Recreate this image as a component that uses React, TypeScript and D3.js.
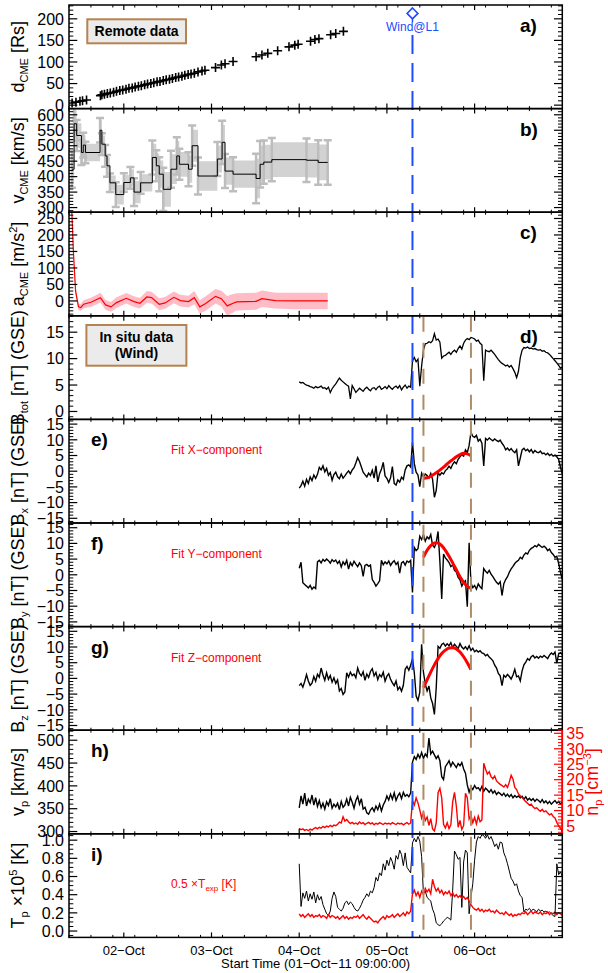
import React from "react";
import * as d3 from "d3";

const FONT = "'Liberation Sans', Arial, Helvetica, sans-serif";

// Time axis: hours after 01-Oct-2011 09:00:00
const TIME_SPAN = 135;
const dayTickHours = [15, 39, 63, 87, 111];
const dayTickLabels = ["02\u2212Oct", "03\u2212Oct", "04\u2212Oct", "05\u2212Oct", "06\u2212Oct"];
const MINOR_TIME_STEP = 6;

// Event markers (hours after start)
const shockHour = 94; // 05-Oct 07:00, arrival at Wind
const cloudBounds = [97, 110]; // flux-rope boundaries

// Remote-sensing track: distance of the CME front
const distHours = [0.85, 1.9, 3.0, 3.7, 4.8, 8.6, 9.0, 9.7, 10.5, 11.3, 12.2, 13.0, 13.9, 14.7, 15.6, 16.4, 17.3, 18.1, 19.0, 19.8, 20.7, 21.5, 22.4, 23.2, 24.1, 24.9, 25.8, 26.6, 27.5, 28.3, 29.2, 30.0, 30.9, 31.7, 32.6, 33.4, 34.3, 35.3, 36.4, 37.2, 40.1, 41.7, 42.7, 44.9, 51.2, 52.8, 54.4, 57.1, 60.2, 61.8, 62.7, 66.1, 67.3, 68.4, 71.6, 73.0, 75.1];
const distValues = [5, 7, 9, 10, 12, 22, 24, 25, 27, 28, 30, 32, 34, 35, 37, 39, 40, 42, 44, 45, 47, 49, 50, 52, 54, 55, 57, 59, 60, 62, 64, 65, 67, 69, 71, 72, 74, 77, 79, 81, 87, 93, 96, 101, 112, 116, 120, 126, 135, 139, 141, 148, 152, 154, 163, 166, 171];

// CME speed (step profile) with uncertainties
const speedHours = [0.8, 1.4, 2.1, 3.4, 3.9, 4.5, 8.5, 9.0, 9.9, 10.4, 11.2, 12.8, 15.0, 16.8, 17.8, 19.6, 22.8, 23.9, 24.7, 25.8, 27.9, 29.5, 30.2, 32.7, 33.7, 35.3, 40.6, 41.9, 42.7, 44.9, 51.2, 52.3, 53.3, 55.5, 65.0, 68.2, 70.8];
const speedValues = [424, 571, 533, 478, 502, 478, 550, 505, 467, 435, 380, 342, 381, 396, 350, 380, 462, 435, 408, 359, 424, 467, 440, 424, 500, 402, 457, 511, 418, 408, 394, 440, 447, 455, 453, 446, 446];
const speedErrors = [60, 55, 50, 40, 40, 35, 40, 35, 35, 35, 30, 40, 30, 35, 45, 35, 55, 50, 55, 70, 60, 60, 50, 55, 65, 60, 55, 70, 55, 55, 80, 75, 70, 70, 70, 72, 72];

// CME acceleration with uncertainties
const accHours = [0.6, 1.2, 1.8, 2.6, 3.2, 4.0, 6.0, 8.6, 10.0, 11.5, 13.0, 15.7, 17.8, 19.4, 21.3, 22.6, 24.7, 26.3, 28.7, 30.5, 32.7, 34.3, 35.8, 37.4, 40.1, 41.7, 43.3, 44.9, 45.9, 51.2, 52.8, 56.5, 61.8, 66.0, 70.8];
const accValues = [320, 150, 30, -18, -20, -10, -4, 10, -12, -18, -5, 8, -2, -7, 12, 10, -10, -6, 11, 1, -2, 10, -18, -8, 14, 7, -15, -7, -3, -1, 7, 1, 0, 0, 0];
const accErrors = [20, 15, 12, 10, 10, 12, 14, 15, 15, 15, 16, 16, 16, 16, 18, 18, 18, 18, 18, 18, 18, 20, 20, 22, 22, 24, 30, 28, 26, 26, 25, 24, 25, 25, 25];

// Wind in situ data, 30-min samples from 04-Oct 00:00
const IN_SITU_START = 63;
const IN_SITU_STEP = 0.5;

const bTotal = [5.6, 5.4, 5.5, 5.2, 5.0, 4.9, 4.7, 4.6, 4.4, 4.7, 4.5,
  4.6, 4.8, 4.4, 4.5, 4.2, 4.6, 3.6, 4.3, 4.8, 5.2,
  5.8, 6.3, 5.9, 5.6, 5.3, 5.0, 4.8, 2.4, 4.9, 4.3,
  3.6, 4.0, 4.4, 4.1, 3.8, 4.3, 4.6, 4.2, 3.9, 4.4,
  4.5, 4.1, 4.6, 4.8, 4.2, 4.4, 4.7, 4.3, 4.9, 4.5,
  4.2, 4.6, 4.8, 4.4, 4.9, 4.1, 4.6, 5.0, 4.4, 4.8, 4.6,
  9.6, 10.2, 9.4, 9.9, 4.8, 8.6, 11.6, 12.8, 12.9,
  13.2, 13.0, 13.4, 14.7, 13.5, 13.7, 13.1, 10.1, 10.5, 10.6,
  10.9, 11.2, 10.8, 11.3, 11.6, 11.2, 11.9, 12.4, 11.8, 12.9,
  13.5, 13.8, 13.6, 14.0, 13.9, 13.7, 13.3, 13.5, 12.9, 12.6,
  5.8, 11.6, 11.4, 11.3, 11.6, 11.2, 10.8, 10.3, 9.8, 9.4,
  9.1, 8.9, 8.6, 8.8, 8.4, 8.7, 8.1, 7.4, 6.4, 7.6,
  10.2, 11.6, 12.1, 12.0, 12.2, 11.9, 12.0, 11.8, 11.9, 11.7,
  11.6, 11.7, 11.4, 11.5, 11.2, 11.1, 10.8, 10.4, 10.0, 9.6,
  9.2, 8.7, 8.2, 8.4];

const bX = [-5.4, -4.6, -3.2, -4.8, -2.6, -3.9, -1.8, -3.0, -1.2, -2.3, -1.0,
  1.2, 0.4, 1.7, -0.2, 0.9, -1.3, -0.4, -2.9, -1.1, -0.3,
  -1.8, -2.4, -0.9, -2.2, -1.5, -0.6, 0.1, -0.8, 0.4, 1.1,
  2.6, 4.3, 3.1, 1.4, -0.3, -1.1, -1.8, -0.6, -1.4, 0.3,
  -2.2, 1.7, -3.4, -0.8, 0.6, 2.8, -1.5, -2.3, -3.6, -2.1,
  1.5, -3.9, -4.4, -2.8, -3.5, -1.9, -2.6, 0.4, 1.7, 2.0, 1.3,
  9.2, 2.4, -0.3, -1.2, -4.9, -0.6, -1.8, -0.9, -1.4,
  -2.2, -0.7, -2.6, -8.3, -6.1, -0.4, -1.3, -0.5, -0.9, 0.2,
  0.7, 1.6, 0.9, 2.2, 3.0, 2.4, 3.8, 4.6, 5.2, 4.8,
  6.8, 5.9, 8.2, 12.4, 11.1, 10.8, 11.4, 9.6, 10.2, 8.9,
  1.7, 10.4, 9.9, 10.6, 10.1, 9.7, 10.3, 9.8, 9.4, 9.9,
  8.9, 8.1, 6.8, 7.4, 6.6, 7.2, 6.4, 5.9, 6.8, 1.7,
  4.2, 6.8, 7.3, 6.5, 7.0, 6.2, 6.9, 5.8, 6.6, 6.1,
  5.9, 6.4, 5.6, 5.8, 5.2, 5.7, 5.0, 5.4, 4.8, 5.1,
  4.6, 3.8, 1.2, -0.8];

const bY = [2.1, 4.0, -2.5, -3.1, -3.6, -4.2, -3.4, -4.6, -3.9, -4.4, 4.1,
  4.6, 3.8, 4.9, 4.3, 5.0, 4.5, 3.7, 4.8, 4.2, 4.7,
  3.6, 4.4, 2.5, 4.1, 3.2, 4.6, 1.8, 3.9, 2.9, 4.3,
  3.4, 2.6, 3.8, 2.9, -0.5, 3.0, 3.3, 2.7, 3.1, -1.5,
  -2.4, -3.6, -2.8, -1.9, 4.6, 3.2, 4.1, 3.5, 4.4, 3.0,
  3.9, 4.5, 3.3, 4.0, 0.5, 3.8, 4.2, 3.1, 4.4, 4.0, 4.6,
  -5.6, 8.7, 7.7, 8.3, 12.3, 11.2, 12.8, 10.7, 12.1,
  11.4, 12.8, 9.4, 8.7, 10.3, 13.8, 4.2, -7.7, 6.6, 5.4,
  4.7, 3.9, 2.6, 3.2, 1.4, 0.9, -0.8, -1.6, -3.6, -2.4,
  -1.9, -10.2, 10.2, -2.6, -4.1, -3.4, -4.6, -2.9, -3.8, -4.4,
  2.0, 1.1, 0.5, 1.4, 0.2, -0.6, -1.5, -2.4, -3.0, -2.2,
  -6.6, -2.8, -1.5, -0.6, 0.8, 1.9, 2.7, 3.6, 4.2, 4.6,
  5.6, 5.1, 6.3, 7.0, 6.6, 7.8, 8.4, 8.7, 9.3, 8.9,
  9.7, 9.2, 8.7, 9.1, 8.6, 7.7, 8.2, 7.1, 6.5, 5.6,
  5.9, 3.6, 0.8, -1.5];

const bZ = [-2.3, -1.6, -2.8, -1.0, 1.2, -0.8, -2.2, -1.5, 0.6, -0.9, 1.3,
  0.4, 3.3, 1.1, -0.6, 1.8, -0.3, 0.9, -1.2, 0.2, -1.6,
  -0.5, -4.0, -3.2, -5.1, -4.3, 1.8, 0.4, 2.0, 0.9, 1.4,
  0.2, 3.3, 1.6, 0.8, 2.1, -0.6, 1.4, 0.3, 2.2, 3.1,
  0.8, 1.9, -0.4, 1.2, 0.5, 2.0, -0.9, 0.7, 1.5, -0.3,
  -1.4, -2.3, -0.8, -3.6, -2.7, -4.1, -2.2, 2.9, 3.8, 2.6, 4.2,
  6.3, 1.8, -5.6, -7.0, -4.5, 10.9, 2.0, -1.8, -4.0,
  -2.4, -6.2, -8.0, -11.5, -3.0, 10.2, 9.6, 10.8, 11.2, 10.3,
  11.0, 10.4, 11.4, 9.8, 10.9, 10.2, 9.5, 11.1, 10.0, 9.4,
  10.1, 9.2, 10.4, 8.9, 9.6, 8.5, 9.0, 8.4, 8.8, 8.1,
  7.9, 7.2, 7.6, 6.8, 6.3, 5.6, 4.2, 3.3, 1.6, 0.8,
  -2.3, 1.0, 0.4, 1.3, 0.6, -0.2, 1.1, 2.9, 0.5, 0.8,
  -0.8, 2.4, 4.3, 5.2, 6.3, 5.8, 6.9, 7.3, 6.5, 7.0,
  6.4, 7.1, 6.7, 7.3, 6.8, 6.3, 7.4, 8.1, 7.6, 8.4,
  4.9, 7.8, 8.2, 7.6];

const protonSpeed = [352, 378, 360, 384, 356, 371, 363, 380, 358, 374, 355,
  368, 352, 362, 349, 365, 357, 372, 351, 360, 354,
  362, 348, 366, 353, 358, 371, 356, 375, 364, 351,
  368, 377, 360, 372, 349, 353, 341, 338, 347, 352,
  344, 356, 348, 360, 345, 358, 366, 378, 369, 382,
  371, 385, 368, 378, 384, 372, 386, 377, 381, 376, 384,
  452, 464, 458, 469, 461, 473, 460, 470, 464,
  505, 470, 476, 468, 460, 466, 455, 420, 414, 442,
  448, 455, 443, 452, 446, 440, 449, 444, 451, 437,
  428, 402, 386, 398, 392, 401, 394, 396, 390, 399,
  388, 395, 391, 386, 392, 384, 389, 381, 386, 383,
  379, 384, 377, 382, 376, 381, 374, 379, 375, 378,
  374, 377, 371, 376, 369, 373, 368, 372, 366, 371,
  368, 364, 370, 363, 367, 361, 366, 360, 364, 368,
  362, 366, 360, 365];

const protonDensity = [4.3, 3.8, 4.1, 3.6, 3.9, 3.5, 4.0, 3.7, 4.2, 4.5, 4.1,
  4.6, 4.3, 4.9, 4.5, 5.0, 4.7, 5.2, 4.8, 5.3, 5.1,
  5.6, 6.3, 6.0, 8.0, 6.6, 7.1, 6.4, 5.8, 6.2, 5.7,
  6.0, 5.6, 6.3, 5.8, 6.1, 5.5, 5.9, 6.2, 5.7, 6.0,
  5.4, 5.9, 5.6, 6.1, 5.8, 5.5, 6.0, 5.7, 5.9, 5.6,
  6.1, 5.8, 5.5, 6.0, 5.7, 5.9, 5.4, 5.8, 6.1, 5.6, 6.0,
  13.2, 11.8, 14.1, 12.5, 10.2, 7.6, 9.4, 6.8, 7.9,
  5.2, 7.4, 4.1, 3.4, 6.0, 15.8, 17.2, 14.1, 5.6, 4.4,
  6.1, 4.2, 5.4, 12.8, 15.9, 11.4, 4.6, 6.8, 3.9, 5.2,
  15.6, 14.2, 7.3, 8.5, 6.1, 7.8, 5.7, 8.2, 6.4, 7.0,
  25.3, 23.4, 21.8, 22.6, 21.0, 20.3, 21.2, 19.6, 19.0, 18.5,
  18.1, 17.6, 18.4, 17.5, 19.2, 21.4, 20.2, 17.5, 16.8, 15.4,
  14.8, 14.2, 13.6, 12.9, 12.4, 11.8, 12.1, 11.2, 10.7, 10.9,
  10.3, 9.8, 10.4, 9.6, 9.9, 9.2, 8.6, 9.0, 8.1, 7.6,
  6.2, 5.1, 4.3, 3.2];

const protonTemp = [0.74, 0.27, 0.42, 0.36, 0.44, 0.33, 0.41, 0.35, 0.43, 0.31, 0.40,
  0.34, 0.38, 0.29, 0.24, 0.19, 0.17, 0.22, 0.36, 0.43, 0.38,
  0.26, 0.24, 0.22, 0.25, 0.31, 0.33, 0.29, 0.32, 0.30, 0.26,
  0.23, 0.22, 0.25, 0.29, 0.34, 0.37, 0.41, 0.38, 0.44, 0.42,
  0.48, 0.59, 0.55, 0.64, 0.61, 0.74, 0.67, 0.78, 0.72, 0.81,
  0.76, 0.68, 0.83, 0.79, 0.89, 0.84, 0.72, 0.86, 0.70, 0.67, 0.64,
  0.97, 1.02, 0.98, 1.04, 0.99, 0.82, 0.41, 0.44, 0.37,
  0.35, 0.33, 0.24, 0.19, 0.09, 0.07, 0.06, 0.08, 0.11, 0.13,
  0.15, 0.14, 0.12, 0.45, 0.88, 0.84, 0.79, 0.81, 0.26, 0.76,
  0.89, 0.86, 0.19, 0.37, 0.52, 0.78, 0.98, 1.04, 1.02, 1.06,
  1.05, 1.02, 1.06, 1.01, 1.04, 0.99, 0.93, 0.96, 0.90, 0.98,
  0.97, 0.86, 0.81, 0.74, 0.66, 0.58, 0.55, 0.50, 0.52, 0.44,
  0.39, 0.37, 0.21, 0.24, 0.23, 0.25, 0.22, 0.24, 0.23, 0.21,
  0.24, 0.22, 0.23, 0.21, 0.22, 0.20, 0.21, 0.19, 0.17, 0.16,
  0.74, 0.62, 0.65, 0.60];

const expectedTemp = [0.19, 0.16, 0.18, 0.15, 0.17, 0.19, 0.16, 0.18, 0.15, 0.17, 0.16,
  0.18, 0.15, 0.17, 0.16, 0.14, 0.18, 0.15, 0.17, 0.16, 0.14,
  0.16, 0.13, 0.15, 0.17, 0.14, 0.16, 0.13, 0.15, 0.14, 0.16,
  0.15, 0.17, 0.14, 0.16, 0.18, 0.15, 0.13, 0.16, 0.14, 0.12,
  0.10, 0.11, 0.09, 0.12, 0.14, 0.16, 0.13, 0.17, 0.15, 0.16,
  0.18, 0.15, 0.17, 0.19, 0.16, 0.18, 0.20, 0.17, 0.21, 0.19, 0.22,
  0.41, 0.45, 0.39, 0.43, 0.37, 0.44, 0.40, 0.47, 0.43,
  0.46, 0.41, 0.57, 0.49, 0.44, 0.47, 0.42, 0.45, 0.40, 0.43,
  0.41, 0.44, 0.39, 0.42, 0.38, 0.40, 0.37, 0.39, 0.36, 0.38,
  0.35, 0.37, 0.33, 0.29, 0.26, 0.24, 0.23, 0.25, 0.22, 0.24,
  0.21, 0.23, 0.22, 0.24, 0.21, 0.22, 0.20, 0.23, 0.21, 0.19,
  0.20, 0.18, 0.21, 0.19, 0.17, 0.19, 0.16, 0.18, 0.17, 0.19,
  0.18, 0.20, 0.19, 0.21, 0.18, 0.20, 0.22, 0.19, 0.21, 0.20,
  0.19, 0.21, 0.18, 0.20, 0.19, 0.21, 0.18, 0.20, 0.19, 0.21,
  0.18, 0.20, 0.19, 0.17];

// Flux-rope fit of the field components
const fitHours = [97, 98, 99, 100, 101, 102, 103, 104, 105, 106, 107, 108, 109, 110];
const fitBx = [-2.3, -2.1, -1.6, -0.9, -0.1, 0.8, 1.8, 2.8, 3.7, 4.6, 5.3, 5.7, 5.5, 4.9];
const fitBy = [5.6, 7.8, 9.3, 10.1, 10.1, 9.3, 7.8, 5.9, 3.8, 1.6, -0.6, -2.4, -3.7, -4.3];
const fitBz = [-2.9, -0.5, 2.0, 4.3, 6.3, 7.9, 9.0, 9.7, 9.8, 9.4, 8.4, 6.9, 5.0, 2.8];

// Layout
const X0 = 69;
const X1 = 562.3;
const TOP = 5;
const PH = 103.6;
const TITLE_X = 24;

type PanelSpec = { letter: string; domain: [number, number]; major: number; minor: number; dec: number; letterLeft: boolean };
const panelSpecs: PanelSpec[] = [
  { letter: "a)", domain: [-8, 232], major: 50, minor: 10, dec: 0, letterLeft: false },
  { letter: "b)", domain: [285, 620], major: 50, minor: 10, dec: 0, letterLeft: false },
  { letter: "c)", domain: [-45, 269], major: 50, minor: 10, dec: 0, letterLeft: false },
  { letter: "d)", domain: [-1.5, 18.1], major: 5, minor: 1, dec: 0, letterLeft: false },
  { letter: "e)", domain: [-16.5, 16.5], major: 5, minor: 1, dec: 0, letterLeft: true },
  { letter: "f)", domain: [-16.5, 16.5], major: 5, minor: 1, dec: 0, letterLeft: true },
  { letter: "g)", domain: [-16.5, 16.5], major: 5, minor: 1, dec: 0, letterLeft: true },
  { letter: "h)", domain: [295, 522], major: 50, minor: 10, dec: 0, letterLeft: true },
  { letter: "i)", domain: [-0.07, 1.07], major: 0.2, minor: 0.05, dec: 1, letterLeft: true },
];
const densityDomain: [number, number] = [2.5, 36];

const RED = "#ff0000";
const BLUE = "#1f4bff";
const BROWN = "#b08c66";

function stepValues(domain: [number, number], step: number): number[] {
  const out: number[] = [];
  const k0 = Math.ceil(domain[0] / step - 1e-6);
  const k1 = Math.floor(domain[1] / step + 1e-6);
  for (let k = k0; k <= k1; k++) out.push(+(k * step).toFixed(6));
  return out;
}

function fmt(v: number, dec: number): string {
  const s = dec ? Math.abs(v).toFixed(dec) : String(Math.abs(Math.round(v)));
  return v < -1e-9 ? "\u2212" + s : s;
}

export default function App() {
  const x = d3.scaleLinear().domain([0, TIME_SPAN]).range([X0, X1]);
  const tops = panelSpecs.map((_, i) => TOP + i * PH);
  const ys = panelSpecs.map((p, i) => d3.scaleLinear().domain(p.domain).range([tops[i] + PH, tops[i]]));
  const bottom = TOP + 9 * PH;
  const inSituX = (i: number) => x(IN_SITU_START + i * IN_SITU_STEP);
  const series = (y: d3.ScaleLinear<number, number>, arr: number[]) =>
    d3.line<number>().x((_, i) => inSituX(i)).y((v) => y(v))(arr) || "";
  const fitPath = (y: d3.ScaleLinear<number, number>, arr: number[]) =>
    d3.line<number>().curve(d3.curveMonotoneX).x((_, i) => x(fitHours[i])).y((v) => y(v))(arr) || "";

  const yDensity = d3.scaleLinear().domain(densityDomain).range([tops[7] + PH, tops[7]]);
  const minorTimes = d3.range(0, TIME_SPAN + 0.001, MINOR_TIME_STEP).filter((h) => !dayTickHours.includes(h));

  // Panel b: speed band, error bars, step line
  const yb = ys[1];
  const speedBand = d3.area<number>().curve(d3.curveStepAfter)
    .x((_, i) => x(speedHours[i])).y0((v, i) => yb(v - 0.8 * speedErrors[i])).y1((v, i) => yb(v + 0.8 * speedErrors[i]))(speedValues) || "";
  const speedLine = d3.line<number>().curve(d3.curveStepAfter)
    .x((_, i) => x(speedHours[i])).y((v) => yb(v))(speedValues) || "";

  // Panel c: acceleration with band
  const yc = ys[2];
  const accBand = d3.area<number>()
    .x((_, i) => x(accHours[i])).y0((v, i) => yc(v - accErrors[i])).y1((v, i) => yc(v + accErrors[i]))(accValues) || "";
  const accLine = d3.line<number>().x((_, i) => x(accHours[i])).y((v) => yc(v))(accValues) || "";

  const shockX = x(shockHour);

  return (
    <svg width={608} height={973} style={{ position: "absolute", left: 0, top: 0, background: "#fff" }} fontFamily={FONT}>
      <rect x={0} y={0} width={608} height={973} fill="#fff" />
      <defs>
        {tops.map((t, i) => (
          <clipPath id={`clip-${i}`} key={i}>
            <rect x={X0} y={t} width={X1 - X0} height={PH} />
          </clipPath>
        ))}
      </defs>

      {/* a) CME distance */}
      <g clipPath="url(#clip-0)">
        {distValues.map((d, i) => {
          const cx = x(distHours[i]);
          const cy = ys[0](d);
          return <path key={i} d={`M${cx - 4.5},${cy}h9M${cx},${cy - 4.5}v9`} stroke="#000" strokeWidth={1.6} />;
        })}
      </g>

      {/* b) CME speed */}
      <g clipPath="url(#clip-1)">
        <path d={speedBand} fill="#d2d2d2" />
        {speedValues.map((v, i) => {
          const cx = x(speedHours[i]);
          const y0 = yb(v - speedErrors[i]);
          const y1 = yb(v + speedErrors[i]);
          return (
            <path key={i} d={`M${cx},${y0}V${y1}M${cx - 4},${y0}h8M${cx - 4},${y1}h8`} stroke="#bdbdbd" strokeWidth={2.5} fill="none" />
          );
        })}
        <path d={speedLine} fill="none" stroke="#000" strokeWidth={1} />
      </g>

      {/* c) CME acceleration */}
      <g clipPath="url(#clip-2)">
        <path d={accBand} fill="#ffbcc6" />
        <path d={accLine} fill="none" stroke={RED} strokeWidth={1.2} />
      </g>

      {/* d)-g) magnetic field */}
      <g clipPath="url(#clip-3)">
        <path d={series(ys[3], bTotal)} fill="none" stroke="#000" strokeWidth={1.3} />
      </g>
      <g clipPath="url(#clip-4)">
        <path d={series(ys[4], bX)} fill="none" stroke="#000" strokeWidth={1.4} />
        <path d={fitPath(ys[4], fitBx)} fill="none" stroke={RED} strokeWidth={3} />
      </g>
      <g clipPath="url(#clip-5)">
        <path d={series(ys[5], bY)} fill="none" stroke="#000" strokeWidth={1.4} />
        <path d={fitPath(ys[5], fitBy)} fill="none" stroke={RED} strokeWidth={3} />
      </g>
      <g clipPath="url(#clip-6)">
        <path d={series(ys[6], bZ)} fill="none" stroke="#000" strokeWidth={1.4} />
        <path d={fitPath(ys[6], fitBz)} fill="none" stroke={RED} strokeWidth={3} />
      </g>

      {/* h) plasma speed and density */}
      <g clipPath="url(#clip-7)">
        <path d={series(ys[7], protonSpeed)} fill="none" stroke="#000" strokeWidth={1.4} />
        <path d={series(yDensity, protonDensity)} fill="none" stroke={RED} strokeWidth={1.4} />
      </g>

      {/* i) temperatures */}
      <g clipPath="url(#clip-8)">
        <path d={series(ys[8], protonTemp)} fill="none" stroke="#000" strokeWidth={1} />
        <path d={series(ys[8], expectedTemp)} fill="none" stroke={RED} strokeWidth={1.4} />
      </g>

      {/* event markers */}
      <line x1={shockX} x2={shockX} y1={35} y2={bottom} stroke={BLUE} strokeWidth={2} strokeDasharray="19 9" />
      <line x1={shockX} x2={shockX} y1={18.8} y2={22} stroke={BLUE} strokeWidth={1.5} />
      <path d={`M${shockX},${8}L${shockX + 5.4},${13.4}L${shockX},${18.8}L${shockX - 5.4},${13.4}Z`} fill="#fff" stroke={BLUE} strokeWidth={1.6} />
      <text x={shockX} y={31} textAnchor="middle" fontSize={12} fill={BLUE}>Wind@L1</text>
      {cloudBounds.map((h) => (
        <line key={h} x1={x(h)} x2={x(h)} y1={tops[3] + 1} y2={bottom} stroke={BROWN} strokeWidth={2} strokeDasharray="15 11" />
      ))}

      {/* frames and axes */}
      {panelSpecs.map((p, i) => {
        const y = ys[i];
        const t = tops[i];
        const majors = stepValues(p.domain, p.major);
        const minors = stepValues(p.domain, p.minor).filter((v) => Math.abs(v / p.major - Math.round(v / p.major)) > 1e-6);
        return (
          <g key={i}>
            {majors.map((v) => (
              <g key={`M${v}`}>
                <line x1={X0} x2={X0 + 8.3} y1={y(v)} y2={y(v)} stroke="#000" strokeWidth={1.2} />
                {i !== 7 && <line x1={X1} x2={X1 - 8.3} y1={y(v)} y2={y(v)} stroke="#000" strokeWidth={1.2} />}
                <text x={X0 - 5} y={y(v)} dy="0.36em" textAnchor="end" fontSize={16}>{fmt(v, p.dec)}</text>
              </g>
            ))}
            {minors.map((v) => (
              <g key={`m${v}`}>
                <line x1={X0} x2={X0 + 4.3} y1={y(v)} y2={y(v)} stroke="#000" strokeWidth={1} />
                {i !== 7 && <line x1={X1} x2={X1 - 4.3} y1={y(v)} y2={y(v)} stroke="#000" strokeWidth={1} />}
              </g>
            ))}
            {dayTickHours.map((h) => (
              <g key={`d${h}`}>
                <line x1={x(h)} x2={x(h)} y1={t} y2={t + 5} stroke="#000" strokeWidth={1.2} />
                <line x1={x(h)} x2={x(h)} y1={t + PH} y2={t + PH - 5} stroke="#000" strokeWidth={1.2} />
              </g>
            ))}
            {minorTimes.map((h) => (
              <g key={`n${h}`}>
                <line x1={x(h)} x2={x(h)} y1={t} y2={t + 2.5} stroke="#000" strokeWidth={1} />
                <line x1={x(h)} x2={x(h)} y1={t + PH} y2={t + PH - 2.5} stroke="#000" strokeWidth={1} />
              </g>
            ))}
            <rect x={X0} y={t} width={X1 - X0} height={PH} fill="none" stroke="#000" strokeWidth={1.5} />
            {i === 7 && <line x1={X1} x2={X1} y1={t} y2={t + PH} stroke={RED} strokeWidth={1.5} />}
            <text x={p.letterLeft ? 91 : 520} y={t + 27} fontSize={19} fontWeight="bold">{p.letter}</text>
          </g>
        );
      })}

      {/* right axis of panel h: density */}
      {stepValues(densityDomain, 5).map((v) => (
        <g key={`np${v}`}>
          <line x1={X1} x2={X1 - 8.3} y1={yDensity(v)} y2={yDensity(v)} stroke={RED} strokeWidth={1.2} />
          <text x={X1 + 4} y={yDensity(v)} dy="0.36em" fontSize={16} fill={RED}>{fmt(v, 0)}</text>
        </g>
      ))}
      {stepValues(densityDomain, 1).filter((v) => v % 5 !== 0).map((v) => (
        <line key={`npm${v}`} x1={X1} x2={X1 - 4.3} y1={yDensity(v)} y2={yDensity(v)} stroke={RED} strokeWidth={1} />
      ))}
      <text transform={`translate(598,${tops[7] + PH / 2}) rotate(-90)`} textAnchor="middle" fontSize={18} fill={RED}>
        n<tspan dy={4} fontSize={11}>p</tspan><tspan dy={-4}> [cm</tspan><tspan dy={-7} fontSize={11}>{"\u22123"}</tspan><tspan dy={7}>]</tspan>
      </text>

      {/* time axis labels */}
      {dayTickHours.map((h, i) => (
        <text key={h} x={x(h)} y={955} textAnchor="middle" fontSize={13}>{dayTickLabels[i]}</text>
      ))}
      <text x={(X0 + X1) / 2} y={968} textAnchor="middle" fontSize={13}>Start Time (01{"\u2212"}Oct{"\u2212"}11 09:00:00)</text>

      {/* y-axis titles */}
      <text transform={`translate(${TITLE_X},${tops[0] + PH / 2}) rotate(-90)`} textAnchor="middle" fontSize={18}>
        d<tspan dy={4} fontSize={11}>CME</tspan><tspan dy={-4}> [Rs]</tspan>
      </text>
      <text transform={`translate(${TITLE_X},${tops[1] + PH / 2}) rotate(-90)`} textAnchor="middle" fontSize={18}>
        v<tspan dy={4} fontSize={11}>CME</tspan><tspan dy={-4}> [km/s]</tspan>
      </text>
      <text transform={`translate(${TITLE_X},${tops[2] + PH / 2}) rotate(-90)`} textAnchor="middle" fontSize={18}>
        a<tspan dy={4} fontSize={11}>CME</tspan><tspan dy={-4}> [m/s</tspan><tspan dy={-7} fontSize={11}>2</tspan><tspan dy={7}>]</tspan>
      </text>
      <text transform={`translate(${TITLE_X},${tops[3] + PH / 2}) rotate(-90)`} textAnchor="middle" fontSize={18}>
        B<tspan dy={4} fontSize={11}>tot</tspan><tspan dy={-4}> [nT] (GSE)</tspan>
      </text>
      <text transform={`translate(${TITLE_X},${tops[4] + PH / 2}) rotate(-90)`} textAnchor="middle" fontSize={18}>
        B<tspan dy={4} fontSize={11}>x</tspan><tspan dy={-4}> [nT] (GSE)</tspan>
      </text>
      <text transform={`translate(${TITLE_X},${tops[5] + PH / 2}) rotate(-90)`} textAnchor="middle" fontSize={18}>
        B<tspan dy={4} fontSize={11}>y</tspan><tspan dy={-4}> [nT] (GSE)</tspan>
      </text>
      <text transform={`translate(${TITLE_X},${tops[6] + PH / 2}) rotate(-90)`} textAnchor="middle" fontSize={18}>
        B<tspan dy={4} fontSize={11}>z</tspan><tspan dy={-4}> [nT] (GSE)</tspan>
      </text>
      <text transform={`translate(${TITLE_X},${tops[7] + PH / 2}) rotate(-90)`} textAnchor="middle" fontSize={18}>
        v<tspan dy={4} fontSize={11}>p</tspan><tspan dy={-4}> [km/s]</tspan>
      </text>
      <text transform={`translate(${TITLE_X},${tops[8] + PH / 2}) rotate(-90)`} textAnchor="middle" fontSize={18}>
        T<tspan dy={4} fontSize={11}>p</tspan><tspan dy={-4}> {"\u00d7"}10</tspan><tspan dy={-7} fontSize={11}>5</tspan><tspan dy={7}> [K]</tspan>
      </text>

      {/* annotations */}
      <rect x={87.3} y={19.3} width={98.7} height={24} fill="#ebebeb" stroke="#b5834f" strokeWidth={2} />
      <text x={136.6} y={36.3} textAnchor="middle" fontSize={14} fontWeight="bold">Remote data</text>
      <rect x={86.4} y={325} width={100} height={40.7} fill="#ebebeb" stroke="#b5834f" strokeWidth={2} />
      <text x={136.4} y={342} textAnchor="middle" fontSize={14} fontWeight="bold">In situ data</text>
      <text x={136.4} y={358} textAnchor="middle" fontSize={14} fontWeight="bold">(Wind)</text>

      <text x={171} y={tops[4] + 35} fontSize={12} fill={RED}>Fit X{"\u2212"}component</text>
      <text x={171} y={tops[5] + 35} fontSize={12} fill={RED}>Fit Y{"\u2212"}component</text>
      <text x={171} y={tops[6] + 35} fontSize={12} fill={RED}>Fit Z{"\u2212"}component</text>
      <text x={171} y={tops[8] + 54} fontSize={12} fill={RED}>
        0.5 {"\u00d7"}T<tspan dy={3} fontSize={8}>exp</tspan><tspan dy={-3}> [K]</tspan>
      </text>
    </svg>
  );
}
